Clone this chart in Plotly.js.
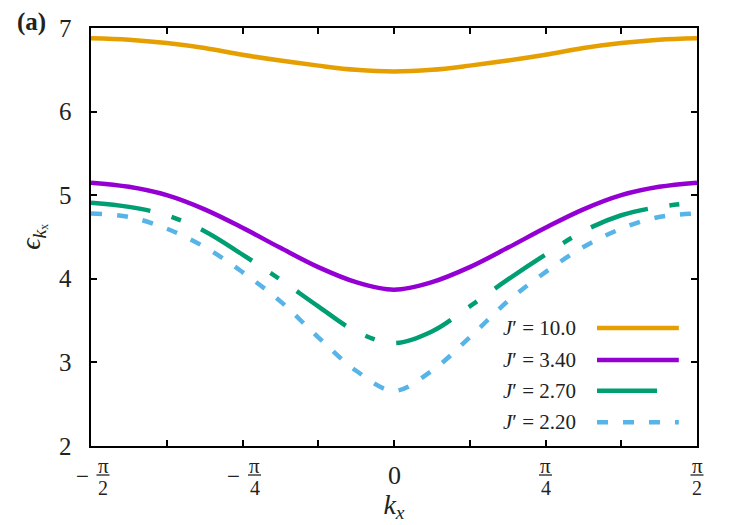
<!DOCTYPE html>
<html>
<head>
<meta charset="utf-8">
<script src="https://cdn.plot.ly/plotly-3.0.1.min.js"></script>
<style>html,body{margin:0;padding:0;background:#fff;}#chart{width:750px;height:525px;}</style>
</head>
<body>
<div id="chart"></div>
<script>
// k_x sample points (from -pi/2 to pi/2, steps of pi/16)
const kx = [-1.5708, -1.3744, -1.1781, -0.9817, -0.7854, -0.5890, -0.3927, -0.1963, 0,
            0.1963, 0.3927, 0.5890, 0.7854, 0.9817, 1.1781, 1.3744, 1.5708];
const seriesNames = ["J′ = 10.0", "J′ = 3.40", "J′ = 2.70", "J′ = 2.20"];
const eJ10  = [6.877, 6.86, 6.82, 6.76, 6.68, 6.61, 6.55, 6.50, 6.48, 6.50, 6.55, 6.61, 6.68, 6.76, 6.82, 6.86, 6.877];
const eJ340 = [5.15, 5.10, 5.00, 4.83, 4.61, 4.37, 4.14, 3.96, 3.87, 3.96, 4.14, 4.37, 4.61, 4.83, 5.00, 5.10, 5.15];
const eJ270 = [4.91, 4.86, 4.76, 4.57, 4.29, 3.99, 3.67, 3.37, 3.23, 3.37, 3.67, 3.99, 4.29, 4.57, 4.76, 4.86, 4.91];
const eJ220 = [4.78, 4.74, 4.60, 4.38, 4.08, 3.73, 3.30, 2.90, 2.66, 2.90, 3.30, 3.73, 4.08, 4.38, 4.60, 4.74, 4.78];
const xRange = [-1.5708, 1.5708];
const yRange = [2, 7];
const xTickVals = [-1.5708, -1.1781, -0.7854, -0.3927, 0, 0.3927, 0.7854, 1.1781, 1.5708];
const xLabelVals = [-1.5708, -0.7854, 0, 0.7854, 1.5708];
const xLabelSign = ["−", "−", "", "", ""];
const xLabelNum = ["π", "π", "0", "π", "π"];
const xLabelDen = ["2", "4", "", "4", "2"];
const yTickVals = [2, 3, 4, 5, 6, 7];
const yTickText = ["2", "3", "4", "5", "6", "7"];

const colors = ["#E69F00", "#9400D3", "#009E73", "#56B4E9"];
const dashes = ["solid", "solid", "60px,22px,10px,22px", "11px,15px"];
const ys = [eJ10, eJ340, eJ270, eJ220];
const serif = '"Liberation Serif", "DejaVu Serif", serif';
const txt = "#222";

const W = 750, H = 525, M = {l: 91, r: 53, t: 28, b: 79};
const PW = W - M.l - M.r, PH = H - M.t - M.b;

const traces = ys.map((y, i) => ({
  x: kx, y: y, type: "scatter", mode: "lines", name: seriesNames[i],
  line: {color: colors[i], width: 4.5, dash: dashes[i], shape: "spline", smoothing: 1},
  showlegend: false, hoverinfo: "skip"
}));

const annotations = [];
const shapes = [];
const toPaperX = v => (v - xRange[0]) / (xRange[1] - xRange[0]);
// y tick labels
yTickVals.forEach((v, i) => {
  annotations.push({x: 0, xref: "paper", y: v, yref: "y", xanchor: "right", yanchor: "middle", xshift: -17,
    text: yTickText[i], showarrow: false, font: {family: serif, size: 25, color: txt}});
});
// x tick labels as stacked fractions
xLabelVals.forEach((v, i) => {
  if (xLabelDen[i] === "") {
    annotations.push({x: v, xref: "x", y: 0, yref: "paper", yanchor: "middle", yshift: -29,
      text: xLabelNum[i], showarrow: false, font: {family: serif, size: 26, color: txt}});
    return;
  }
  const fx = xLabelSign[i] ? 12 : 0;
  annotations.push({x: v, xref: "x", y: 0, yref: "paper", yanchor: "middle", xshift: fx, yshift: -20,
    text: xLabelNum[i], showarrow: false, font: {family: serif, size: 21, color: txt}});
  annotations.push({x: v, xref: "x", y: 0, yref: "paper", yanchor: "middle", xshift: fx, yshift: -42,
    text: xLabelDen[i], showarrow: false, font: {family: serif, size: 20, color: txt}});
  const cx = toPaperX(v) + fx / PW;
  shapes.push({type: "line", xref: "paper", yref: "paper",
    x0: cx - 6.5 / PW, x1: cx + 6.5 / PW, y0: -29 / PH, y1: -29 / PH,
    line: {color: txt, width: 1.3}});
  if (xLabelSign[i]) {
    annotations.push({x: v, xref: "x", y: 0, yref: "paper", yanchor: "middle", xshift: -9, yshift: -30,
      text: xLabelSign[i], showarrow: false, font: {family: serif, size: 23, color: txt}});
  }
});

// legend (drawn inside plot)
const legY = [0.282, 0.206, 0.132, 0.057];
seriesNames.forEach((n, i) => {
  annotations.push({x: 0.804, xref: "paper", y: legY[i], yref: "paper", xanchor: "right", yanchor: "middle",
    text: "<i>J</i>′ = " + n.split("= ")[1], showarrow: false, font: {family: serif, size: 21, color: txt}});
  shapes.push({type: "line", xref: "paper", yref: "paper", x0: 0.835, x1: 0.970, y0: legY[i], y1: legY[i],
    line: {color: colors[i], width: 4.5, dash: dashes[i]}});
});

// panel label
annotations.push({x: -0.098, xref: "paper", y: 1.015, yref: "paper", xanchor: "center",
  yanchor: "middle", text: "<b>(a)</b>", showarrow: false, font: {family: serif, size: 25, color: txt}});

const layout = {
  width: W, height: H,
  margin: M,
  paper_bgcolor: "#fff", plot_bgcolor: "#fff",
  xaxis: {range: xRange, tickvals: xTickVals, showticklabels: false,
    ticks: "inside", ticklen: 6, tickwidth: 2, tickcolor: "#000",
    showline: true, linecolor: "#000", linewidth: 2, mirror: "ticks", showgrid: false, zeroline: false,
    title: {text: "<i>k</i><sub><i>x</i></sub>", font: {family: serif, size: 28, color: txt}, standoff: 47}},
  yaxis: {range: yRange, tickvals: yTickVals, showticklabels: false,
    ticks: "inside", ticklen: 6, tickwidth: 2, tickcolor: "#000",
    showline: true, linecolor: "#000", linewidth: 2, mirror: "ticks", showgrid: false, zeroline: false,
    title: {text: "<i>ϵ</i><sub><i>k</i>ₓ</sub>", font: {family: serif, size: 28, color: txt}, standoff: 40}},
  annotations: annotations, shapes: shapes, showlegend: false
};
Plotly.newPlot("chart", traces, layout, {staticPlot: true, displayModeBar: false});
</script>
</body>
</html>
